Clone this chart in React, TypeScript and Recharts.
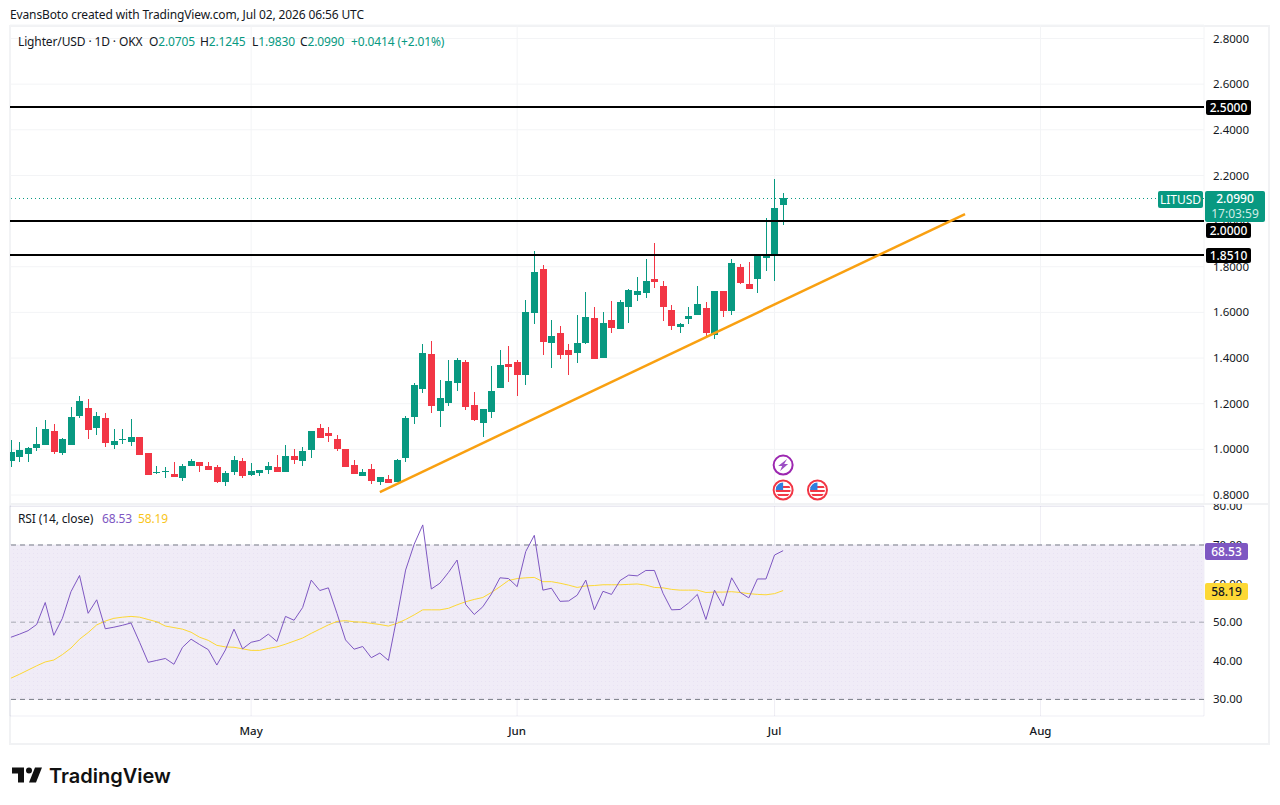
import React from 'react';
import {
  ComposedChart,
  LineChart,
  Bar,
  Line,
  XAxis,
  YAxis,
  CartesianGrid,
  ReferenceLine,
  ReferenceArea,
  ReferenceDot,
} from 'recharts';

// daily candles, 3 Apr to 2 Jul 2026 (index 0 = 3 Apr)
const opens = [
  0.951, 0.967, 0.98, 1.006, 1.019, 1.08, 0.984, 1.019, 1.146, 1.181, 1.094, 1.137, 1.019, 1.041, 1.032, 1.054,
  0.984, 0.897, 0.902, 0.892, 0.875, 0.927, 0.945, 0.927, 0.923, 0.857, 0.901, 0.949, 0.888, 0.897, 0.91, 0.923,
  0.901, 0.971, 0.949, 0.997, 1.094, 1.072, 1.046, 1.002, 0.932, 0.883, 0.914, 0.857, 0.87, 0.857, 0.962, 1.142,
  1.265, 1.418, 1.168, 1.203, 1.291, 1.383, 1.194, 1.116, 1.164, 1.269, 1.374, 1.383, 1.326, 1.597, 1.79, 1.466,
  1.51, 1.435, 1.422, 1.466, 1.576, 1.4, 1.567, 1.527, 1.624, 1.676, 1.685, 1.746, 1.716, 1.611, 1.536, 1.571,
  1.589, 1.62, 1.501, 1.694, 1.606, 1.799, 1.725, 1.746, 1.839, 1.847, 2.0705,
];
const highs = [
  1.041, 1.032, 1.009, 1.098, 1.129, 1.111, 1.05, 1.186, 1.234, 1.221, 1.164, 1.159, 1.089, 1.089, 1.133, 1.054,
  0.984, 0.927, 0.923, 0.945, 0.936, 0.958, 0.945, 0.945, 0.932, 0.905, 0.971, 0.962, 0.94, 0.91, 0.945, 0.975,
  1.019, 1.002, 1.01, 1.081, 1.111, 1.098, 1.063, 1.002, 0.954, 0.914, 0.936, 0.879, 0.888, 0.958, 1.146, 1.291,
  1.462, 1.475, 1.304, 1.392, 1.4, 1.392, 1.251, 1.177, 1.365, 1.435, 1.453, 1.392, 1.654, 1.869, 1.808, 1.567,
  1.54, 1.462, 1.589, 1.689, 1.624, 1.602, 1.65, 1.654, 1.703, 1.755, 1.834, 1.904, 1.738, 1.633, 1.554, 1.624,
  1.716, 1.646, 1.694, 1.694, 1.834, 1.812, 1.821, 1.856, 2.014, 2.184, 2.1245,
];
const lows = [
  0.924, 0.946, 0.946, 0.993, 1.019, 0.98, 0.975, 1.019, 1.137, 1.045, 1.063, 1.01, 1.002, 1.024, 1.015, 0.975,
  0.888, 0.892, 0.875, 0.879, 0.861, 0.927, 0.901, 0.91, 0.853, 0.84, 0.888, 0.875, 0.883, 0.883, 0.892, 0.901,
  0.901, 0.936, 0.927, 0.962, 1.05, 1.032, 0.993, 0.923, 0.892, 0.883, 0.848, 0.844, 0.853, 0.857, 0.945, 1.111,
  1.247, 1.159, 1.098, 1.19, 1.256, 1.173, 1.124, 1.054, 1.138, 1.269, 1.295, 1.234, 1.282, 1.549, 1.414, 1.357,
  1.396, 1.326, 1.378, 1.462, 1.396, 1.4, 1.51, 1.527, 1.554, 1.65, 1.663, 1.707, 1.563, 1.523, 1.51, 1.549,
  1.589, 1.488, 1.484, 1.58, 1.589, 1.725, 1.703, 1.685, 1.782, 1.738, 1.983,
];
const closes = [
  0.988, 0.997, 1.006, 1.024, 1.089, 0.988, 1.045, 1.142, 1.212, 1.085, 1.146, 1.028, 1.037, 1.045, 1.054, 0.975,
  0.888, 0.901, 0.905, 0.879, 0.927, 0.949, 0.927, 0.91, 0.857, 0.897, 0.953, 0.883, 0.905, 0.91, 0.927, 0.901,
  0.971, 0.953, 0.993, 1.081, 1.05, 1.059, 1.002, 0.923, 0.892, 0.901, 0.862, 0.879, 0.853, 0.954, 1.138, 1.282,
  1.422, 1.19, 1.225, 1.3, 1.392, 1.186, 1.129, 1.177, 1.256, 1.37, 1.361, 1.326, 1.602, 1.777, 1.47, 1.497,
  1.414, 1.414, 1.466, 1.58, 1.396, 1.554, 1.532, 1.646, 1.698, 1.694, 1.738, 1.733, 1.624, 1.541, 1.549, 1.584,
  1.637, 1.51, 1.694, 1.606, 1.817, 1.729, 1.703, 1.847, 1.847, 2.057, 2.099,
];

const rsiValues = [
  46.1, 46.9, 47.8, 49.4, 55.1, 46.6, 51, 57.9, 62.1, 52.3, 55.8, 48.3, 48.7, 49.2, 49.8, 44.8, 39.6, 40.1, 40.6,
  39.1, 43.5, 45.6, 44.2, 42.9, 38.9, 42.8, 48.2, 43.1, 44.8, 45.3, 46.9, 45, 51.5, 50.5, 53.8, 60.9, 58.2, 58.9,
  52.3, 45.4, 43, 43.7, 40.8, 42, 40.1, 51.4, 63.5, 70.2, 75.2, 58.6, 60.1, 62.9, 66.1, 54.6, 52, 54, 57.3, 61.5,
  61.3, 59.2, 68.3, 72.5, 58.3, 58.8, 55.4, 55.5, 57, 60.9, 53.2, 58, 57.2, 60.8, 62.2, 62, 63.4, 63.4, 57.5, 53.2,
  53.3, 55, 57.2, 50.7, 58.3, 54.2, 61.5, 57.7, 56.3, 61.2, 61.2, 67.4, 68.53,
];
const rsiMaValues = [
  35.5, 36.5, 37.6, 38.7, 39.7, 40.2, 41.6, 43.3, 45.6, 47.3, 49.3, 50.3, 51, 51.3, 51.5, 51.3, 50.7, 50.1, 49, 48.6,
  48.2, 47.4, 46.1, 45.3, 44, 43.6, 43.5, 43.1, 42.7, 42.7, 43.2, 43.6, 44.3, 45.1, 45.9, 47.1, 48.2, 49.3, 50.2,
  50.4, 50.1, 50, 49.7, 49.4, 49, 49.7, 50.7, 51.9, 53.2, 53.2, 53.2, 53.6, 54.5, 55.3, 55.9, 56.4, 57.7, 59.2, 60.8,
  61.3, 61.5, 61.6, 60.5, 60.5, 60.1, 59.6, 59, 59.4, 59.5, 59.7, 59.7, 59.7, 59.8, 59.9, 59.6, 59, 58.9, 58.5, 58.3,
  58.3, 58.3, 57.7, 57.8, 57.8, 57.9, 57.7, 57.4, 57.2, 57.1, 57.4, 58.19,
];

const priceTicks = [0.8, 1.0, 1.2, 1.4, 1.6, 1.8, 2.0, 2.2, 2.4, 2.6, 2.8];
const rsiTicks = [30, 40, 50, 60, 70, 80];
const monthTicks = [28, 59, 89, 120];
const monthNames = ['May', 'Jun', 'Jul', 'Aug'];
const levelLines = [2.5, 2.0, 1.851];
const lastPrice = 2.099;
const trendStart = { x: 43, y: 0.813 };
const trendEnd = { x: 111.2, y: 2.031 };
const flagEvents = [90, 94];

const GREEN = '#089981';
const RED = '#f23645';
const PURPLE = '#7e57c2';
const YELLOW = '#fdd835';
const GRID = '#f3f4f6';
const INK = '#131722';
const FRAME = '#f1f2f4';
const FONT = '"Noto Sans", sans-serif';
const DAY_DOMAIN: [number, number] = [-0.105, 139.05];

const candleRows = opens.map((open, day) => ({
  day,
  open,
  high: highs[day],
  low: lows[day],
  close: closes[day],
  range: [lows[day], highs[day]],
}));
const rsiRows = rsiValues.map((rsi, day) => ({ day, rsi, ma: rsiMaValues[day] }));

const Candle = (props: any) => {
  const { x, y, width, height, payload } = props;
  const { open, high, low, close } = payload;
  const color = close >= open ? GREEN : RED;
  const toY = (v: number) => y + ((high - v) / (high - low)) * height;
  const top = toY(Math.max(open, close));
  const bottom = toY(Math.min(open, close));
  const mid = x + width / 2;
  return (
    <g shapeRendering="crispEdges">
      <line x1={mid} x2={mid} y1={y} y2={y + height} stroke={color} strokeWidth={1} />
      <rect x={x} y={top} width={width} height={Math.max(bottom - top, 1)} fill={color} />
    </g>
  );
};

const FlagIcon = ({ cx, cy }: any) => (
  <g>
    <circle cx={cx} cy={cy} r={9.5} fill="#fff" stroke={RED} strokeWidth={2} />
    <clipPath id={`flag-${cx}`}>
      <circle cx={cx} cy={cy} r={7.5} />
    </clipPath>
    <g clipPath={`url(#flag-${cx})`}>
      <rect x={cx - 8} y={cy - 8} width={16} height={16} fill="#fff" />
      <rect x={cx - 8} y={cy - 4} width={16} height={2} fill={RED} />
      <rect x={cx - 8} y={cy} width={16} height={2} fill={RED} />
      <rect x={cx - 8} y={cy + 4} width={16} height={2} fill={RED} />
      <rect x={cx - 8} y={cy - 8} width={8} height={8} fill="#2f7fe0" />
    </g>
  </g>
);

const BoltIcon = ({ cx, cy }: any) => (
  <g>
    <circle cx={cx} cy={cy} r={9.5} fill="#fff" stroke="#9c27b0" strokeWidth={2} />
    <path
      d={`M${cx + 4} ${cy - 6} L${cx - 5} ${cy + 1} H${cx - 1} L${cx - 3} ${cy + 6} L${cx + 5} ${cy - 1} H${cx + 1} Z`}
      fill="#9c4fc4"
    />
  </g>
);

const Txt = ({ left, top, color = INK, size = 12, children }: any) => (
  <span
    style={{
      position: 'absolute',
      left,
      top,
      color,
      fontSize: size,
      lineHeight: '16px',
      letterSpacing: -0.13,
      whiteSpace: 'nowrap',
    }}
  >
    {children}
  </span>
);

const Tag = ({ left, top, width, height, bg, color = '#fff', weight = 500, children }: any) => (
  <div
    style={{
      position: 'absolute',
      left,
      top,
      width,
      height,
      background: bg,
      color,
      fontSize: 12,
      fontWeight: weight,
      lineHeight: `${height}px`,
      textAlign: 'center',
      borderRadius: 2,
    }}
  >
    {children}
  </div>
);

export default function App() {
  return (
    <div style={{ position: 'absolute', left: 0, top: 0, width: 1280, height: 805, background: '#fff', fontFamily: FONT }}>
      <Txt left={10} top={7}>EvansBoto created with TradingView.com, Jul 02, 2026 06:56 UTC</Txt>

      {/* frame */}
      <div style={{ position: 'absolute', left: 9, top: 25, width: 1261, height: 720, border: `2px solid ${FRAME}`, boxSizing: 'border-box' }} />

      <div style={{ position: 'absolute', left: 0, top: 0 }}>
        <ComposedChart width={1280} height={505} data={candleRows} margin={{ top: 25, right: 0, bottom: 0, left: 10 }}>
          <CartesianGrid stroke={GRID} />
          <XAxis dataKey="day" type="number" scale="linear" domain={DAY_DOMAIN} ticks={monthTicks} allowDataOverflow hide />
          <YAxis
            orientation="right"
            width={76}
            domain={[0.7562, 2.8591]}
            ticks={priceTicks}
            interval={0}
            allowDataOverflow
            axisLine={false}
            tickLine={false}
            tickMargin={3}
            tickFormatter={(v: number) => v.toFixed(4)}
            tick={{ fontSize: 11.5, fill: INK }}
          />
          <ReferenceLine y={lastPrice} stroke={GREEN} strokeDasharray="1 3" segment={[{ x: DAY_DOMAIN[0], y: lastPrice }, { x: 133.6, y: lastPrice }]} />
          <Bar dataKey="range" barSize={7} shape={<Candle />} isAnimationActive={false} />
          {levelLines.map(level => (
            <ReferenceLine key={level} y={level} stroke="#000" strokeWidth={2} />
          ))}
          <ReferenceLine segment={[trendStart, trendEnd]} stroke="#f9a011" strokeWidth={2.5} />
          <ReferenceDot x={flagEvents[0]} y={0.931} ifOverflow="visible" shape={<BoltIcon />} />
          {flagEvents.map(day => (
            <ReferenceDot key={day} x={day} y={0.822} ifOverflow="visible" shape={<FlagIcon />} />
          ))}
        </ComposedChart>
      </div>

      {/* pane separator */}
      <div style={{ position: 'absolute', left: 10, top: 503, width: 1259, height: 2, background: FRAME }} />

      <div style={{ position: 'absolute', left: 0, top: 504 }}>
        <LineChart width={1280} height={242} data={rsiRows} margin={{ top: 2, right: 0, bottom: 0, left: 10 }}>
          <defs>
            <pattern id="rsiDots" width={4} height={4} patternUnits="userSpaceOnUse">
              <rect width={4} height={4} fill="#f0ecf7" />
              <rect x={1} y={1} width={1} height={1} fill="#e8e2f3" />
            </pattern>
          </defs>
          <ReferenceArea y1={30} y2={70} fill="url(#rsiDots)" fillOpacity={1} stroke="none" />
          <CartesianGrid stroke="rgba(70,55,130,0.08)" />
          <XAxis
            dataKey="day"
            type="number"
            scale="linear"
            domain={DAY_DOMAIN}
            ticks={monthTicks}
            interval={0}
            height={30}
            allowDataOverflow
            axisLine={false}
            tickLine={false}
            tickMargin={5}
            tickFormatter={(v: number) => monthNames[monthTicks.indexOf(v)]}
            tick={{ fontSize: 11.5, fill: INK, fontWeight: 500 }}
          />
          <YAxis
            orientation="right"
            width={76}
            domain={[25.7, 80.1]}
            ticks={rsiTicks}
            interval={0}
            allowDataOverflow
            axisLine={false}
            tickLine={false}
            tickMargin={3}
            tickFormatter={(v: number) => v.toFixed(2)}
            tick={{ fontSize: 11.5, fill: INK }}
          />
          <ReferenceLine y={70} stroke="#787b86" strokeDasharray="5 4" />
          <ReferenceLine y={50} stroke="#787b86" strokeOpacity={0.6} strokeDasharray="5 4" />
          <ReferenceLine y={30} stroke="#787b86" strokeDasharray="5 4" />
          <Line dataKey="ma" stroke={YELLOW} strokeWidth={1} dot={false} isAnimationActive={false} />
          <Line dataKey="rsi" stroke={PURPLE} strokeWidth={1} dot={false} isAnimationActive={false} />
        </LineChart>
      </div>

      {/* legends */}
      <Txt left={18} top={34}>Lighter/USD · 1D · OKX</Txt>
      <Txt left={149} top={34}>O<span style={{ color: GREEN }}>2.0705</span></Txt>
      <Txt left={200} top={34}>H<span style={{ color: GREEN }}>2.1245</span></Txt>
      <Txt left={252} top={34}>L<span style={{ color: GREEN }}>1.9830</span></Txt>
      <Txt left={300} top={34}>C<span style={{ color: GREEN }}>2.0990</span></Txt>
      <Txt left={351} top={34} color={GREEN}>+0.0414 (+2.01%)</Txt>
      <Txt left={18} top={511}>RSI (14, close)</Txt>
      <Txt left={102} top={511} color={PURPLE}>68.53</Txt>
      <Txt left={138} top={511} color="#f9c51a">58.19</Txt>

      {/* axis tags */}
      <Tag left={1206} top={100} width={45} height={15} bg="#000">2.5000</Tag>
      <Tag left={1206} top={223} width={45} height={15} bg="#000">2.0000</Tag>
      <Tag left={1206} top={248} width={45} height={15} bg="#000">1.8510</Tag>
      <Tag left={1158} top={191} width={45} height={17} bg={GREEN} weight={400}>LITUSD</Tag>
      <div style={{ position: 'absolute', left: 1205, top: 191, width: 60, height: 31, background: GREEN, borderRadius: 2, fontSize: 12, textAlign: 'center' }}>
        <div style={{ color: '#fff', fontWeight: 500, lineHeight: '16px' }}>2.0990</div>
        <div style={{ color: '#d2ece7', lineHeight: '14px' }}>17:03:59</div>
      </div>
      <Tag left={1205} top={543} width={43} height={17} bg={PURPLE}>68.53</Tag>
      <Tag left={1205} top={583} width={43} height={17} bg={YELLOW} color={INK}>58.19</Tag>

      {/* logo */}
      <svg style={{ position: 'absolute', left: 12, top: 767 }} width={30} height={16} viewBox="2 6 30 15">
        <path d="M14 6H2v6h6v9h6V6Zm12 15h-7l6-15h7l-6 15Zm-7-9a3 3 0 1 0 0-6 3 3 0 0 0 0 6Z" fill="#111" />
      </svg>
      <span style={{ position: 'absolute', left: 49, top: 762, fontFamily: 'Inter, sans-serif', fontSize: 20, fontWeight: 600, color: '#111', lineHeight: '28px' }}>
        TradingView
      </span>
    </div>
  );
}
